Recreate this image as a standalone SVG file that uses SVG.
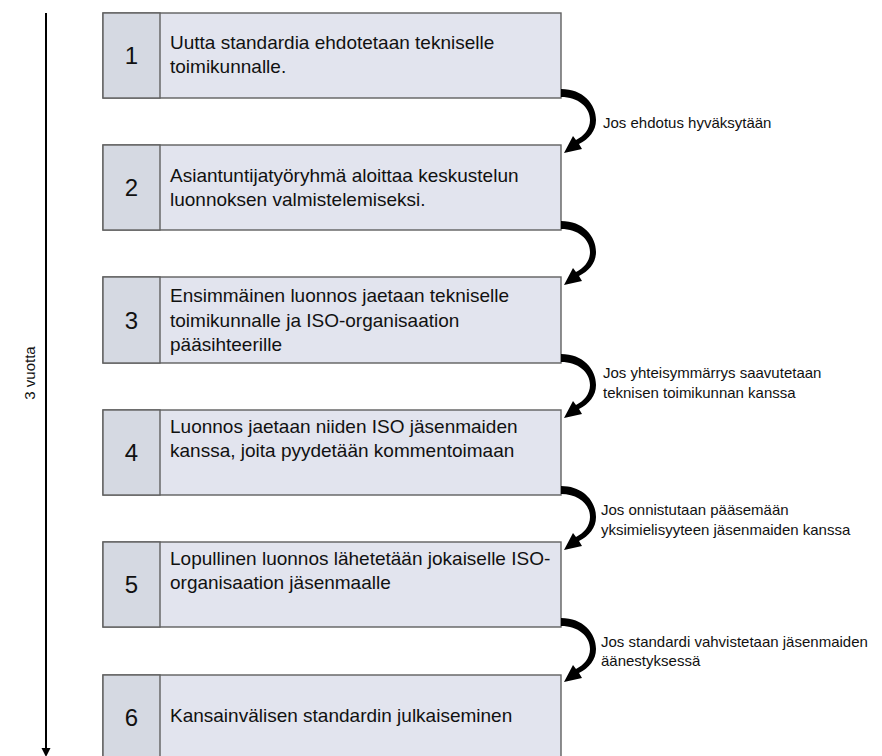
<svg xmlns="http://www.w3.org/2000/svg" xmlns:xlink="http://www.w3.org/1999/xlink" width="882" height="756" viewBox="0 0 882 756">
<style>
.num{fill:#d5d9e2;stroke:#606060;stroke-width:1.4}
.body{fill:#e2e4ee;stroke:#606060;stroke-width:1.4}
.n{font-family:"Liberation Sans",Arial,sans-serif;font-size:24px;fill:#111;text-anchor:middle}
.t{font-family:"Liberation Sans",Arial,sans-serif;font-size:19px;fill:#111}
.l{font-family:"Liberation Sans",Arial,sans-serif;font-size:15px;fill:#111}
.curl{fill:#000}
</style>
<defs>
<path id="curl" d="M 0,-9 C 22,-9 35,6 35,22 C 35,33 28,41 18,46 L 21,51 L 3,55 L 12,38 L 15,42 C 23,38 29,31 29,22 C 29,9 17,-1 0,-1 Z"/>
</defs>
<rect width="882" height="756" fill="#fff"/>

<g id="timeline">
<line x1="46" y1="13" x2="46" y2="750" stroke="#000" stroke-width="2"/>
<polygon points="41.5,748 50.5,748 46,757" fill="#000"/>
<text class="l" transform="translate(35,373) rotate(-90)" text-anchor="middle">3 vuotta</text>
</g>

<g id="step1">
<rect class="body" x="103" y="13" width="458" height="85"/>
<rect class="num" x="103" y="13" width="57" height="85"/>
<text class="n" x="131.5" y="64">1</text>
<text class="t" x="170" y="49">Uutta standardia ehdotetaan tekniselle</text>
<text class="t" x="170" y="73">toimikunnalle.</text>
</g>

<g id="step2">
<rect class="body" x="103" y="145" width="458" height="85"/>
<rect class="num" x="103" y="145" width="57" height="85"/>
<text class="n" x="131.5" y="196">2</text>
<text class="t" x="170" y="182">Asiantuntijatyöryhmä aloittaa keskustelun</text>
<text class="t" x="170" y="206">luonnoksen valmistelemiseksi.</text>
</g>

<g id="step3">
<rect class="body" x="103" y="277" width="458" height="86"/>
<rect class="num" x="103" y="277" width="57" height="86"/>
<text class="n" x="131.5" y="329">3</text>
<text class="t" x="170" y="302">Ensimmäinen luonnos jaetaan tekniselle</text>
<text class="t" x="170" y="327">toimikunnalle ja ISO-organisaation</text>
<text class="t" x="170" y="351">pääsihteerille</text>
</g>

<g id="step4">
<rect class="body" x="103" y="410" width="458" height="85"/>
<rect class="num" x="103" y="410" width="57" height="85"/>
<text class="n" x="131.5" y="461">4</text>
<text class="t" x="170" y="433">Luonnos jaetaan niiden ISO jäsenmaiden</text>
<text class="t" x="170" y="457">kanssa, joita pyydetään kommentoimaan</text>
</g>

<g id="step5">
<rect class="body" x="103" y="542" width="458" height="85"/>
<rect class="num" x="103" y="542" width="57" height="85"/>
<text class="n" x="131.5" y="593">5</text>
<text class="t" x="170" y="565">Lopullinen luonnos lähetetään jokaiselle ISO-</text>
<text class="t" x="170" y="589">organisaation jäsenmaalle</text>
</g>

<g id="step6">
<rect class="body" x="103" y="675" width="458" height="90"/>
<rect class="num" x="103" y="675" width="57" height="90"/>
<text class="n" x="131.5" y="726">6</text>
<text class="t" x="170" y="722">Kansainvälisen standardin julkaiseminen</text>
</g>

<g id="connectors">
<use href="#curl" class="curl" x="561" y="98"/>
<use href="#curl" class="curl" x="561" y="230"/>
<use href="#curl" class="curl" x="561" y="363"/>
<use href="#curl" class="curl" x="561" y="495"/>
<use href="#curl" class="curl" x="561" y="627"/>
</g>

<g id="labels">
<text class="l" x="603" y="128">Jos ehdotus hyväksytään</text>
<text class="l" x="603" y="378">Jos yhteisymmärrys saavutetaan</text>
<text class="l" x="603" y="398">teknisen toimikunnan kanssa</text>
<text class="l" x="601" y="515">Jos onnistutaan pääsemään</text>
<text class="l" x="601" y="535">yksimielisyyteen jäsenmaiden kanssa</text>
<text class="l" x="601" y="647">Jos standardi vahvistetaan jäsenmaiden</text>
<text class="l" x="601" y="666">äänestyksessä</text>
</g>
</svg>
